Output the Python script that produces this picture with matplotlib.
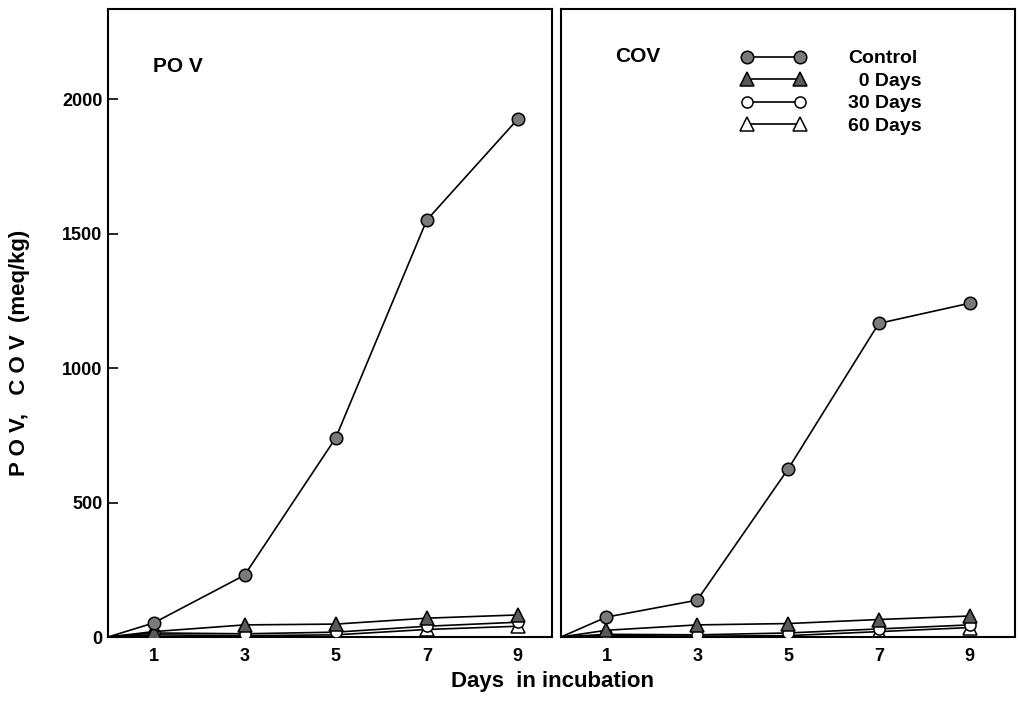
import matplotlib
matplotlib.use('Agg')
import matplotlib.pyplot as plt

plt.rcParams['font.family'] = ['Liberation Sans', 'DejaVu Sans']
plt.rcParams['font.weight'] = 'bold'

# incubation days (lines start at the origin)
days = [0, 1, 3, 5, 7, 9]
x_ticks = [1, 3, 5, 7, 9]
y_ticks = [0, 500, 1000, 1500, 2000]

series_names = ['Control', '  0 Days', '30 Days', '60 Days']

# POV (meq/kg)
pov_control = [0, 52, 230, 740, 1550, 1926]
pov_0days = [0, 20, 45, 48, 70, 82]
pov_30days = [0, 15, 12, 18, 40, 55]
pov_60days = [0, 8, 5, 8, 28, 40]

# COV (meq/kg)
cov_control = [0, 74, 137, 624, 1166, 1241]
cov_0days = [0, 25, 45, 50, 65, 78]
cov_30days = [0, 10, 8, 15, 30, 45]
cov_60days = [0, 5, 3, 5, 20, 35]

styles = [
    dict(marker='o', ms=9, mfc='#7a7a7a', mec='black', zorder=5),
    dict(marker='^', ms=10, mfc='#5a5a5a', mec='black', zorder=4),
    dict(marker='o', ms=8, mfc='white', mec='black', zorder=3),
    dict(marker='^', ms=10, mfc='white', mec='black', zorder=2),
]

fig = plt.figure(figsize=(10.2, 7.02), dpi=100)
ax1 = fig.add_axes([108 / 1020, 65 / 702, 444 / 1020, 628 / 702])
ax2 = fig.add_axes([561 / 1020, 65 / 702, 454 / 1020, 628 / 702])


def draw_panel(ax, data, xmax, title, tx, ty):
    lines = []
    for vals, st in zip(data, styles):
        ln, = ax.plot(days, vals, color='black', lw=1.2, mew=1.1,
                      markevery=list(range(1, len(days))), **st)
        lines.append(ln)
    ax.set_xlim(0, xmax)
    ax.set_ylim(0, 2335)
    ax.set_xticks(x_ticks)
    ax.tick_params(axis='x', length=0, pad=8, labelsize=13)
    for sp in ax.spines.values():
        sp.set_linewidth(1.5)
    ax.text(tx, ty, title, transform=ax.transAxes, fontsize=15,
            fontweight='bold', va='center', ha='left')
    return lines


draw_panel(ax1, [pov_control, pov_0days, pov_30days, pov_60days], 9.75, 'PO V', 0.101, 0.908)
lines = draw_panel(ax2, [cov_control, cov_0days, cov_30days, cov_60days], 10.0, 'COV', 0.119, 0.924)

ax1.set_yticks(y_ticks)
ax1.tick_params(axis='y', direction='in', length=7, width=1.2, pad=4, labelsize=13)
ax2.set_yticks([])

ax2.legend(lines, series_names, loc='upper left', bbox_to_anchor=(0.397, 0.935),
           frameon=False, numpoints=2, handlelength=3.33, handletextpad=2.17,
           labelspacing=0.25, borderpad=0, borderaxespad=0,
           prop={'weight': 'bold', 'size': 14})

fig.text(20 / 1020, 0.497, 'P O V,   C O V  (meq/kg)', rotation=90, fontsize=16,
         fontweight='bold', ha='center', va='center')
fig.text(553 / 1020, 20 / 702, 'Days  in incubation', fontsize=16,
         fontweight='bold', ha='center', va='center')

fig.savefig('out.png', dpi=100)
